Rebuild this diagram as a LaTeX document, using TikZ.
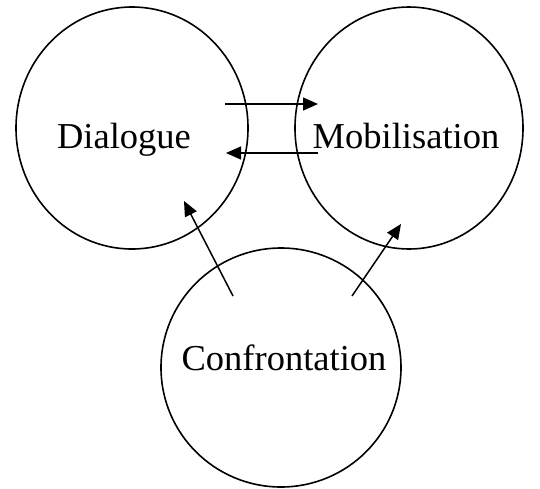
\documentclass[tikz,border=0pt]{standalone}
\usepackage{fontspec}
\setmainfont{Liberation Serif}
\usetikzlibrary{arrows.meta, shapes.geometric}
\usetikzlibrary{positioning}

\tikzset{
  blob/.style={draw, ellipse, line width=1.6pt, inner sep=0pt},
  lbl/.style={anchor=base, inner sep=0pt, font=\fontsize{36.5}{40}\selectfont},
  flow/.style={line width=1.5pt, -{Triangle[length=15pt,width=13pt]}}
}

\begin{document}
\begin{tikzpicture}[x=1pt,y=-1pt]
\useasboundingbox (0,0) rectangle (540,488);
\node [blob, minimum width=232pt, minimum height=242pt] (dia) at (132,128) {};
\node [blob, minimum width=228pt, minimum height=242pt] (mob) at (409,128) {};
\node [blob, minimum width=240pt, minimum height=239pt] (con) at (281,367.5) {};
\node [lbl] (diat) at ([xshift=-8pt,yshift=-20pt]dia.center) {Dialogue};
\node [lbl] (mobt) at ([xshift=-3pt,yshift=-20pt]mob.center) {Mobilisation};
\node [lbl] (cont) at ([xshift=3pt,yshift=-2.5pt]con.center) {Confrontation};
% arrow ends
\coordinate (a1) at (225,104);
\coordinate (b1) at (318,104);
\coordinate (a2) at (318,153);
\coordinate (b2) at (226,153);
\coordinate (a3) at (233,296);
\coordinate (b3) at (184,201);
\coordinate (a4) at (352,296);
\coordinate (b4) at (401,224);
\draw [flow] (a1) -- (b1);
\draw [flow] (a2) -- (b2);
\draw [flow] (a3) -- (b3);
\draw [flow] (a4) -- (b4);
\end{tikzpicture}
\end{document}
